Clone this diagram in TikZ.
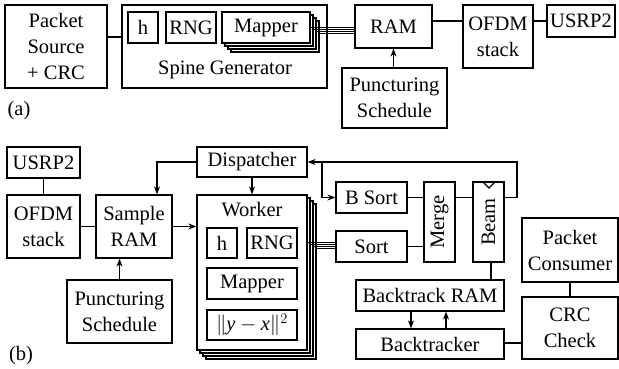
\documentclass[tikz,border=0pt]{standalone}
\usepackage{fontspec}
\setmainfont{Liberation Serif}
\usetikzlibrary{arrows.meta}
\tikzset{
  box/.style={draw, line width=1.2pt, fill=white, inner sep=0pt, align=center},
  lbl/.style={inner sep=0pt, align=center},
  conn/.style={line width=1.2pt},
  bus/.style={line width=0.7pt},
  arr/.style={line width=1.2pt, -{Stealth[length=8pt,width=6pt,inset=2.5pt]}},
  every node/.style={font=\fontsize{20.5}{26}\selectfont},
}
\newcommand\bx[6]{\node[box, minimum width={(#4-#2)*1pt}, minimum height={(#5-#3)*1pt}] (#1) at ({(#2+#4)/2},{(#3+#5)/2}) {#6};}
\newcommand\stk[5]{%
  \foreach \k in {3,2,1}{\node[box, minimum width={(#4-#2)*1pt}, minimum height={(#5-#3)*1pt}] (#1-\k) at ({(#2+#4)/2+3*\k},{(#3+#5)/2+3*\k}) {};}%
  \node[box, minimum width={(#4-#2)*1pt}, minimum height={(#5-#3)*1pt}] (#1) at ({(#2+#4)/2},{(#3+#5)/2}) {};}
\begin{document}
\begin{tikzpicture}[x=1pt,y=-1pt]
\useasboundingbox[fill=white] (0,0) rectangle (619,368);
% ---------- (a) ----------
\bx{psrc}{5}{5}{107}{88}{Packet\\Source\\+ CRC}
\bx{sg}{122}{5}{327}{88}{}
\node[lbl] (sglabel) at (225,70) {Spine Generator};
\bx{ha}{128}{12}{158}{43}{h}
\bx{rnga}{166}{12}{216}{43}{RNG}
\stk{mapa}{222}{12}{310}{43}
\node[lbl] (mapalabel) at (mapa) {Mapper};
\bx{rama}{355}{5}{432}{48}{RAM}
\bx{punca}{342}{68}{447}{128}{Puncturing\\Schedule}
\bx{ofdma}{463}{5}{533}{68}{OFDM\\stack}
\bx{usrpa}{547}{5}{615}{37}{USRP2}
\node[lbl] (la) at (19,111) {(a)};
\draw[conn] (psrc.east |- 0,37) -- (sg.west |- 0,37);
\foreach \k/\yy in {0/27,1/29,2/31,3/33}{
  \draw[bus] ({310+3*\k},\yy) -- (rama.west |- 0,\yy);}
\draw[arr] (punca.north -| rama.south) -- (rama.south);
\draw[conn] (rama.east |- usrpa.west) -- (ofdma.west |- usrpa.west);
\draw[conn] (ofdma.east |- usrpa.west) -- (usrpa.west);
% ---------- (b) ----------
\bx{usrpb}{7}{147}{80}{178}{USRP2}
\bx{ofdmb}{7}{195}{80}{258}{OFDM\\stack}
\bx{sram}{96}{195}{172}{258}{Sample\\RAM}
\bx{puncb}{67}{280}{172}{343}{Puncturing\\Schedule}
\bx{disp}{197}{147}{307}{177}{Dispatcher}
\stk{wk}{197}{195}{307}{350}
\node[lbl] (wklabel) at (252,210) {Worker};
\bx{hb}{207}{228}{237}{258}{h}
\bx{rngb}{247}{228}{297}{258}{RNG}
\bx{mapb}{207}{268}{297}{299}{Mapper}
\bx{norm}{207}{310}{297}{340}{$\|\mathit{y}-\mathit{x}\|^2$}
\bx{bsort}{336}{182}{407}{213}{B Sort}
\bx{sort}{336}{231}{407}{262}{Sort}
\bx{merge}{424}{182}{455}{262}{}
\node[lbl, rotate=90] (mergelabel) at (merge) {Merge};
\bx{beam}{473}{182}{504}{262}{}
\node[lbl, rotate=90] (beamlabel) at (beam) {Beam};
\draw[conn] (483,182) -- (489,188) -- (495,182);
\bx{btram}{356}{280}{504}{311}{Backtrack RAM}
\bx{bt}{356}{329}{504}{359}{Backtracker}
\bx{pc}{522}{218}{618}{282}{Packet\\Consumer}
\bx{crc}{522}{297}{618}{359}{CRC\\Check}
\node[lbl] (lb) at (21,356) {(b)};
\coordinate (fbR) at (517,162);
\coordinate (fbL) at (322,162);
\draw[conn] (usrpb.south) -- (ofdmb.north);
\draw[conn] (ofdmb.east) -- (sram.west);
\draw[arr] (puncb.north) -- (puncb.north |- sram.south);
\draw[arr] (disp.west) -| (sram.north -| 157,0);
\draw[arr] (disp.south) -- (wk.north);
\draw[arr] (sram.east) -- (sram.east -| wk.west);
\foreach \k/\yy in {0/242,1/244,2/246,3/248}{
  \draw[bus] ({307+3*\k},\yy) -- (sort.west |- 0,\yy);}
\draw[conn] (bsort.east) -- (bsort.east -| merge.west);
\draw[conn] (sort.east) -- (sort.east -| merge.west);
\draw[conn] (merge.east |- bsort.east) -- (beam.west |- bsort.east);
\draw[arr] (beam.east |- bsort.east) -| (fbR) -- (disp.east);
\draw[arr] (fbL) |- (bsort.west);
\draw[conn] (beam.south -| 491,0) -- (btram.north -| 491,0);
\draw[arr] (btram.south -| 411,0) -- (bt.north -| 411,0);
\draw[arr] (bt.north -| 446,0) -- (btram.south -| 446,0);
\draw[conn] (pc.south) -- (crc.north);
\draw[conn] (bt.east |- 0,343) -- (crc.west |- 0,343);
\end{tikzpicture}
\end{document}
